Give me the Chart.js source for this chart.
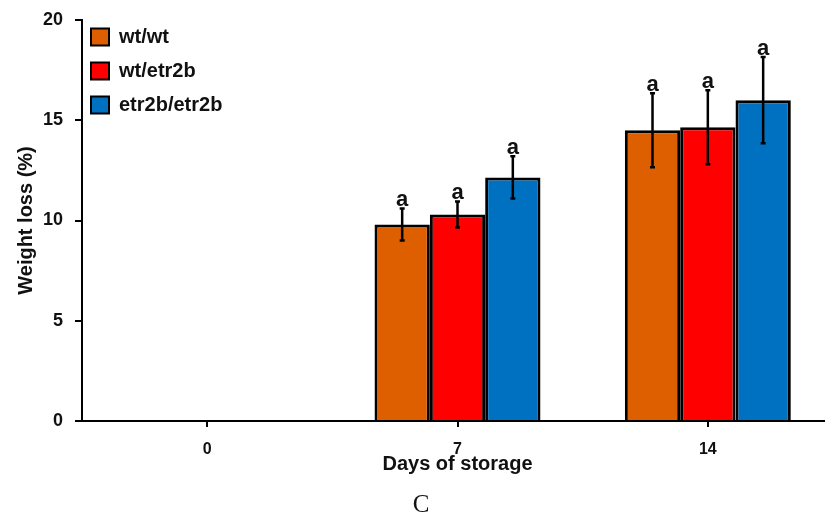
<!DOCTYPE html>
<html>
<head>
<meta charset="utf-8">
<script src="https://cdn.jsdelivr.net/npm/chart.js@4.4.1/dist/chart.umd.min.js"></script>
<style>
  html, body { margin: 0; padding: 0; background: #fff; overflow: hidden; }
  #wrap { position: relative; width: 835px; height: 517px; }
  #c { display: block; }
  #panel { position: absolute; left: 0; top: 490px; width: 842px; text-align: center;
           font-family: 'Liberation Serif', 'Times New Roman', serif; font-size: 25px; color: #111; }
</style>
</head>
<body>
<div id="wrap">
  <canvas id="c" width="835" height="517"></canvas>
  <div id="panel">C</div>
</div>
<script>
// ---- data ----
const days = ['0', '7', '14'];
const seriesNames = ['wt/wt', 'wt/etr2b', 'etr2b/etr2b'];
const wtwt = [null, 9.8, 14.5];
const wtetr2b = [null, 10.3, 14.65];
const etr2betr2b = [null, 12.15, 16.0];
const wtwtErr = [null, 0.8, 1.85];
const wtetr2bErr = [null, 0.65, 1.85];
const etr2betr2bErr = [null, 1.05, 2.15];
const wtwtSig = [null, 'a', 'a'];
const wtetr2bSig = [null, 'a', 'a'];
const etr2betr2bSig = [null, 'a', 'a'];
const yTicks = [0, 5, 10, 15, 20];

const colors = ['#DD5F00', '#FF0000', '#0070C0'];
const values = [wtwt, wtetr2b, etr2betr2b];
const errs = [wtwtErr, wtetr2bErr, etr2betr2bErr];
const sigs = [wtwtSig, wtetr2bSig, etr2betr2bSig];

const font = "'Liberation Sans', Arial, sans-serif";

const errorBarPlugin = {
  id: 'errorBars',
  afterDatasetsDraw(chart) {
    const ctx = chart.ctx;
    const y = chart.scales.y;
    chart.data.datasets.forEach((ds, i) => {
      const meta = chart.getDatasetMeta(i);
      meta.data.forEach((el, j) => {
        const v = ds.data[j];
        if (v === null || v === undefined) return;
        const e = ds.errors[j];
        const top = y.getPixelForValue(v + e);
        const bot = y.getPixelForValue(v - e);
        ctx.save();
        ctx.strokeStyle = '#000';
        ctx.lineWidth = 2.5;
        ctx.beginPath();
        ctx.moveTo(el.x, top); ctx.lineTo(el.x, bot);
        ctx.moveTo(el.x - 2.5, top); ctx.lineTo(el.x + 2.5, top);
        ctx.moveTo(el.x - 2.5, bot); ctx.lineTo(el.x + 2.5, bot);
        ctx.stroke();
        const s = ds.sig[j];
        if (s) {
          ctx.fillStyle = '#111';
          ctx.font = "bold 22px " + font;
          ctx.textAlign = 'center';
          ctx.textBaseline = 'alphabetic';
          ctx.fillText(s, el.x, top - 2);
        }
        ctx.restore();
      });
    });
  }
};

const legendShift = {
  id: 'legendShift',
  afterLayout(chart) {
    const lg = chart.legend;
    if (lg) { lg.top += 13; lg.bottom += 13; lg.left -= 5; lg.right -= 5; }
  }
};

new Chart(document.getElementById('c'), {
  type: 'bar',
  data: {
    labels: days,
    datasets: seriesNames.map((n, i) => ({
      label: n,
      data: values[i],
      errors: errs[i],
      sig: sigs[i],
      backgroundColor: colors[i],
      borderColor: '#000',
      borderWidth: 3,
      barPercentage: 1.0,
      categoryPercentage: 0.663
    }))
  },
  options: {
    responsive: false,
    animation: false,
    layout: { padding: { left: 0, right: 2, top: 20, bottom: 41 } },
    plugins: {
      legend: {
        position: 'chartArea',
        align: 'start',
        labels: {
          boxWidth: 18,
          boxHeight: 17,
          padding: 14,
          color: '#111',
          font: { family: font, size: 20, weight: 'bold' },
          generateLabels(chart) {
            const items = Chart.defaults.plugins.legend.labels.generateLabels(chart);
            items.forEach(it => { it.lineWidth = 2; });
            return items;
          }
        }
      },
      tooltip: { enabled: false }
    },
    scales: {
      x: {
        grid: { display: true, drawOnChartArea: false, drawTicks: true, tickLength: 6, color: '#000', lineWidth: 2, offset: false },
        border: { display: true, color: '#000', width: 2 },
        ticks: { color: '#111', padding: 13, font: { family: font, size: 16, weight: 'bold' } },
        title: { display: true, text: 'Days of storage', color: '#111',
                 font: { family: font, size: 20, weight: 'bold' }, padding: { top: 0, bottom: 0 } },
        afterFit(scale) { scale.height = 55; scale.paddingLeft = 0; scale.paddingRight = 0; }
      },
      y: {
        min: 0, max: 20,
        afterBuildTicks(scale) { scale.ticks = yTicks.map(v => ({ value: v })); },
        grid: { display: true, drawOnChartArea: false, drawTicks: true, tickLength: 7, color: '#000', lineWidth: 2 },
        border: { display: true, color: '#000', width: 2 },
        ticks: { color: '#111', padding: 12, font: { family: font, size: 18, weight: 'bold' } },
        title: { display: true, text: 'Weight loss (%)', color: '#111',
                 font: { family: font, size: 20, weight: 'bold' }, padding: { top: 14, bottom: 0 } },
        afterFit(scale) { scale.width = 82; scale.paddingTop = 0; scale.paddingBottom = 0; }
      }
    }
  },
  plugins: [errorBarPlugin, legendShift]
});
</script>
</body>
</html>
